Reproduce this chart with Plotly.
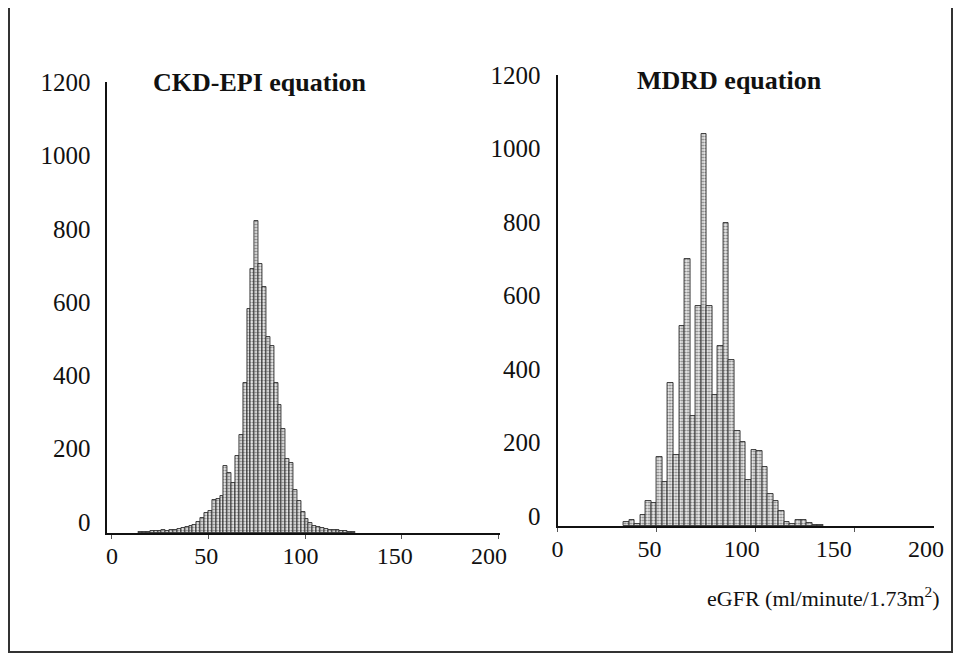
import plotly.graph_objects as go

# ---- data ----
ckd_centers = [15, 17, 19, 21, 23, 25, 27, 29, 31, 33, 35, 37, 39, 41, 43, 45, 47, 49, 51, 53,
               55, 57, 59, 61, 63, 65, 67, 69, 71, 73, 75, 77, 79, 81, 83, 85, 87, 89, 91, 93,
               95, 97, 99, 101, 103, 105, 107, 109, 111, 113, 115, 117, 119, 121, 123, 125]
ckd_counts = [3, 4, 4, 5, 6, 5, 7, 6, 8, 9, 12, 14, 17, 19, 21, 30, 40, 54, 60, 87,
              90, 100, 178, 160, 135, 206, 263, 402, 600, 705, 835, 720, 657, 524, 500, 400, 341, 277, 197, 187,
              115, 86, 55, 38, 27, 20, 16, 13, 10, 9, 8, 7, 6, 5, 4, 3]

mdrd_centers = [34.8, 37.6, 40.4, 43.2, 46.0, 48.8, 51.6, 54.4, 57.2, 60.0, 62.8, 65.6, 68.4, 71.2,
                74.0, 76.8, 79.6, 82.4, 85.2, 88.0, 90.8, 93.6, 96.4, 99.2, 102.0, 104.8, 107.6,
                110.4, 113.2, 116.0, 118.8, 121.6, 124.4, 127.2, 130.0, 132.8]
mdrd_counts = [10, 16, 5, 29, 67, 61, 185, 117, 383, 190, 536, 716, 295, 590,
               1053, 590, 351, 482, 813, 445, 256, 226, 123, 204, 201, 159, 87,
               66, 39, 12, 5, 16, 16, 8, 3, 2]

x_ticks = [0, 50, 100, 150, 200]
y_ticks = [0, 200, 400, 600, 800, 1000, 1200]
titles = ["CKD-EPI equation", "MDRD equation"]
x_title = "eGFR (ml/minute/1.73m<sup>2</sup>)"

# page body has an 8px margin; keep the figure inside the window (no scrollbars)
OFF = 8
W, H = 961 - 2 * OFF, 661 - 2 * OFF
FONT = "Liberation Serif, Times New Roman, serif"

bar_marker = dict(
    color="#d6d6d6",
    line=dict(color="#2a2a2a", width=0.9),
    pattern=dict(shape=".", fgcolor="#7a7a7a", bgcolor="#ececec", size=3, solidity=0.4),
)

fig = go.Figure()
fig.add_trace(go.Bar(x=ckd_centers, y=ckd_counts, width=2, marker=bar_marker,
                     xaxis="x", yaxis="y", showlegend=False))
fig.add_trace(go.Bar(x=mdrd_centers, y=mdrd_counts, width=2.8, marker=bar_marker,
                     xaxis="x2", yaxis="y2", showlegend=False))
# invisible anchors so the label-only overlay axes are drawn
for xa, ya in (("x3", "y"), ("x4", "y2"), ("x", "y3"), ("x2", "y4")):
    fig.add_trace(go.Scatter(x=[x_ticks[2]], y=[y_ticks[1]], xaxis=xa, yaxis=ya, mode="markers",
                             marker=dict(opacity=0), hoverinfo="skip", showlegend=False))

def px(x):
    return (x - OFF) / W

def py(y):
    return 1 - (y - OFF) / H

# axes carrying the bars, axis lines and tick marks (no labels)
xaxis_marks = dict(
    tickvals=x_ticks, showgrid=False, zeroline=False, showline=True, automargin=False,
    linecolor="#111", linewidth=2, ticks="outside", ticklen=4, tickcolor="#555",
    tickwidth=1, showticklabels=False,
)
yaxis_marks = dict(
    tickvals=y_ticks, showgrid=False, zeroline=False, showline=True, automargin=False,
    linecolor="#111", linewidth=1.5, ticks="", showticklabels=False,
)
# overlay axes carrying the tick labels, spaced as printed in the original figure
xaxis_labels = dict(
    tickvals=x_ticks, showgrid=False, zeroline=False, showline=False, automargin=False,
    ticks="", tickfont=dict(family=FONT, size=24, color="#111"), ticklabelstandoff=6,
)
yaxis_labels = dict(
    tickvals=y_ticks, showgrid=False, zeroline=False, showline=False, automargin=False,
    ticks="", tickfont=dict(family=FONT, size=25, color="#111"), ticklabelstandoff=16,
)

fig.update_layout(
    template="none",
    width=W, height=H,
    margin=dict(l=0, r=0, t=0, b=0, autoexpand=False),
    paper_bgcolor="white", plot_bgcolor="white",
    bargap=0,
    xaxis=dict(domain=[px(107.4), px(500.3)], range=[-2.17, 200.98], anchor="y", **xaxis_marks),
    xaxis3=dict(overlaying="x", anchor="y", range=[-2.44, 205.99], **xaxis_labels),
    yaxis=dict(domain=[py(533), py(82)], range=[0, 1206], anchor="x", **yaxis_marks),
    yaxis3=dict(overlaying="y", anchor="x", range=[-30, 1200.5], **yaxis_labels),
    xaxis2=dict(domain=[px(557.5), px(933.7)], range=[0, 190], anchor="y2", **xaxis_marks),
    xaxis4=dict(overlaying="x2", anchor="y2", range=[0, 204.2], **xaxis_labels),
    yaxis2=dict(domain=[py(526), py(75)], range=[0, 1211], anchor="x2", **yaxis_marks),
    yaxis4=dict(overlaying="y2", anchor="x2", range=[-27.2, 1200.5], **yaxis_labels),
    font=dict(family=FONT, color="#111"),
)

fig.add_annotation(text="<b>" + titles[0] + "</b>", x=px(260), y=py(82), xref="paper", yref="paper",
                   showarrow=False, font=dict(family=FONT, size=26, color="#111"),
                   xanchor="center", yanchor="middle")
fig.add_annotation(text="<b>" + titles[1] + "</b>", x=px(729), y=py(80), xref="paper", yref="paper",
                   showarrow=False, font=dict(family=FONT, size=26, color="#111"),
                   xanchor="center", yanchor="middle")
fig.add_annotation(text=x_title, x=px(942), y=py(597), xref="paper", yref="paper",
                   showarrow=False, font=dict(family=FONT, size=22, color="#111"),
                   xanchor="right", yanchor="middle")

# outer frame, as close to the window edges as the page allows
fig.add_shape(type="rect", xref="paper", yref="paper",
              x0=1 / W, x1=1 - 1 / W, y0=1 / H, y1=1.05,
              line=dict(color="#333", width=2), fillcolor="rgba(0,0,0,0)")

fig.write_html("out.html")
